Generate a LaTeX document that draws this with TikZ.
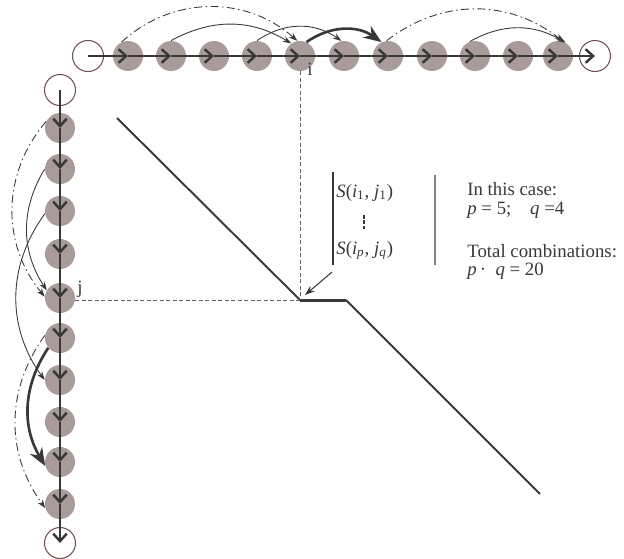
\documentclass[tikz,border=0pt]{standalone}
\usepackage{fontspec}
\setmainfont{Liberation Serif}
\usetikzlibrary{arrows.meta}
\definecolor{cellgray}{HTML}{A89B99}
\definecolor{ringbrown}{HTML}{6E5050}
\definecolor{inkgray}{HTML}{383838}

\begin{document}
\begin{tikzpicture}[x=2mm, y=2mm,
  cell/.style={circle, fill=cellgray, minimum size=0.6cm, inner sep=0pt},
  ring/.style={circle, draw=ringbrown, line width=0.6pt, minimum size=0.62cm, inner sep=0pt},
  chain/.style={inkgray, line width=0.6pt,
    -{Straight Barb[length=0.15cm, width=0.27cm, line width=1.4pt]}},
  hop/.style={inkgray, line width=0.5pt, -{Stealth[length=0.17cm, width=0.12cm]}},
  hopdash/.style={hop, dash pattern=on 4.5pt off 2pt on 0.8pt off 2pt},
  hopbig/.style={inkgray, line width=1.5pt, -{Stealth[length=0.36cm, width=0.28cm]}},
  guide/.style={black!60, line width=0.55pt, dash pattern=on 2.2pt off 1.5pt},
  txt/.style={font=\fontsize{10.7pt}{12pt}\selectfont, text=inkgray,
    inner sep=0pt, anchor=base west}]

  \useasboundingbox (0,0) rectangle (62.4,-55.8);

  % ══ DIAGONAL PATH ═════════════════════════════════════════════
  \coordinate (ridgeA) at (11.7,-11.8);
  \coordinate (P)      at (30.0,-30.0);
  \coordinate (Q)      at (34.6,-30.0);
  \coordinate (ridgeB) at (54.0,-49.4);
  \draw[inkgray, line width=1.1pt] (ridgeA) -- (P);
  \draw[inkgray, line width=1.7pt] (P) -- (Q);
  \draw[inkgray, line width=1.1pt] (Q) -- (ridgeB);

  % ══ TOP ROW (i) ═══════════════════════════════════════════════
  \node[ring] (t0) at (8.8,-5.6) {};
  \foreach \x [count=\n] in {12.8,17.1,21.4,25.7,30.0,34.4,38.8,43.2,47.5,51.8,55.8}
    \node[cell] (t\n) at (\x,-5.6) {};
  \node[ring] (t12) at (59.5,-5.6) {};

  % ══ LEFT COLUMN (j) ═══════════════════════════════════════════
  \node[ring] (l0) at (6.0,-9.0) {};
  \foreach \y [count=\n] in {12.8,16.9,21.1,25.4,29.8,33.8,38.0,42.2,46.2,50.4}
    \node[cell] (l\n) at (6.0,-\y) {};
  \node[ring] (l11) at (6.0,-54.3) {};

  % ══ GUIDES ════════════════════════════════════════════════════
  \draw[guide] (t5.south) -- (P);
  \draw[guide] (l5.east |- P) -- (P);
  \node[txt, anchor=base] (ilab) at (31.0,-7.5) {i};
  \node[txt, anchor=base] (jlab) at (8.0,-29.3) {j};

  % ══ CHAINS ════════════════════════════════════════════════════
  \foreach \a [evaluate=\a as \b using int(\a+1)] in {0,...,11}
    \draw[chain] (t\a.center) -- (t\b.center);
  \foreach \a [evaluate=\a as \b using int(\a+1)] in {0,...,10}
    \draw[chain] (l\a.center) -- (l\b.center);

  % ══ JUMPS: top row ════════════════════════════════════════════
  \draw[hopdash] (t1.115) to[bend left=42] (t5.100);
  \draw[hop]     (t2.north) to[bend left=30] (t5.125);
  \draw[hop]     (t4.north) to[bend left=35] (t6.100);
  \draw[hopbig]  (t5.65) to[bend left=35] (t7.115);
  \draw[hopdash] (t7.95) to[bend left=38] (t11.70);
  \draw[hop]     (t9.110) to[bend left=30] (t11.60);

  % ══ JUMPS: left column ════════════════════════════════════════
  \draw[hopdash] (l1.155) to[bend right=40] (l5.175);
  \draw[hop]     (l2.west) to[bend right=32] (l5.150);
  \draw[hop]     (l3.190) to[bend right=36] (l7.180);
  \draw[hopbig]  (l6.220) to[bend right=32] (l9.195);
  \draw[hopdash] (l6.170) to[bend right=36] (l10.195);

  % ══ PAIR LIST ═════════════════════════════════════════════════
  \draw[inkgray, line width=0.6pt] (33.3,-17.2) -- (33.3,-26.5);
  \node[txt] (sfirst) at (33.6,-19.7)
    {\textit{S}(\textit{i}\textsubscript{1}, \textit{j}\textsubscript{1})};
  \draw[inkgray, line width=0.6pt, dash pattern=on 2pt off 1pt] (36.4,-21.5) -- (36.4,-23.0);
  \node[txt] (slast) at (33.6,-25.4)
    {\textit{S}(\textit{i}\textsubscript{\textit{p}}, \textit{j}\textsubscript{\textit{q}})};
  \draw[gray, line width=0.8pt] (43.5,-17.5) -- (43.5,-26.5);

  \coordinate (pointer) at (33.2,-27.2);
  \coordinate (pointtip) at (30.5,-29.5);
  \draw[inkgray, line width=0.6pt, -{Stealth[length=0.2cm, width=0.14cm]}] (pointer) -- (pointtip);

  % ══ NOTES ═════════════════════════════════════════════════════
  \node[txt] (case)  at (46.7,-19.5) {In this case:};
  \node[txt] (pq)    at (46.7,-21.4) {\textit{p} = 5;\quad \textit{q} =4};
  \node[txt] (total) at (46.7,-25.7) {Total combinations:};
  \node[txt] (prod)  at (46.7,-27.5) {\textit{p}\,·\ \ \textit{q} = 20};

\end{tikzpicture}
\end{document}
